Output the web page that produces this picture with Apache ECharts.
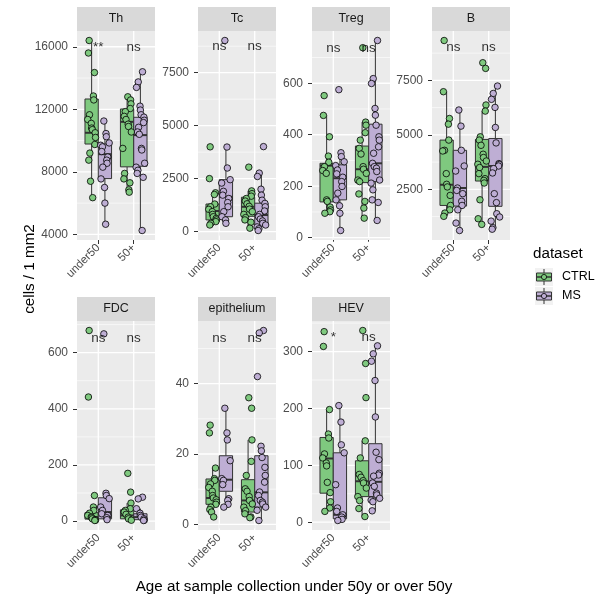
<!DOCTYPE html>
<html>
<head>
<meta charset="utf-8">
<script src="https://cdn.jsdelivr.net/npm/echarts@6/dist/echarts.min.js"></script>
<style>
  html, body { margin: 0; padding: 0; background: #ffffff; }
  #chart { width: 613px; height: 601px; }
</style>
</head>
<body>
<div id="chart"></div>
<script>
// ---- categories ----
const groups = ['under50', '50+'];
const datasets = ['CTRL', 'MS'];
const panelNames = ['Th', 'Tc', 'Treg', 'B', 'FDC', 'epithelium', 'HEV'];

// ---- cells per mm2; order: under50 CTRL, under50 MS, 50+ CTRL, 50+ MS ----
const thValues = [
  [16400, 15600, 14350, 12850, 12600, 11650, 11350, 11100, 10800, 10700, 10500, 10200, 9750, 9200, 8750, 7400, 6350],
  [11250, 10450, 10250, 9850, 9700, 9600, 9300, 8950, 8750, 8550, 8300, 7550, 7000, 6000, 4650],
  [12800, 12600, 12350, 12050, 11850, 11550, 11350, 11050, 10900, 10550, 9500, 7900, 7550, 7300, 6850, 6700],
  [14400, 13750, 13400, 12200, 11950, 11650, 11500, 11300, 11150, 10850, 10550, 10400, 9500, 9400, 8550, 8300, 8100, 7900, 7650, 4250]
];
const tcValues = [
  [4000, 2500, 1830, 1750, 1300, 1170, 1050, 940, 810, 700, 620, 550, 470, 390, 310],
  [9020, 3990, 3000, 2450, 2290, 1900, 1720, 1560, 1370, 1170, 940, 700, 550, 390],
  [3040, 1920, 1790, 1670, 1560, 1440, 1310, 1190, 1060, 940, 810, 660, 550, 440, 160],
  [4010, 2760, 2600, 2000, 1720, 1480, 1330, 1170, 970, 810, 700, 590, 500, 390, 310, 220, 130, 50]
];
const tregValues = [
  [552, 475, 392, 317, 293, 276, 261, 250, 147, 141, 119, 108, 101, 95],
  [575, 330, 315, 295, 280, 263, 248, 235, 218, 199, 173, 147, 124, 95, 28],
  [738, 449, 437, 408, 379, 347, 325, 276, 266, 250, 224, 218, 170, 141, 115, 76],
  [766, 618, 599, 502, 476, 437, 392, 379, 353, 328, 289, 276, 270, 257, 224, 212, 186, 147, 137, 67]
];
const bValues = [
  [9330, 6980, 5750, 5490, 4760, 4290, 4260, 3220, 2730, 2610, 2220, 1760, 1560, 1410, 1260],
  [6140, 5400, 4290, 3570, 3340, 2560, 2450, 2300, 1950, 1760, 1560, 950, 610],
  [8310, 8050, 6370, 6090, 4910, 4760, 4520, 4110, 3960, 3800, 3650, 3500, 3220, 2990, 2910, 2790, 2020, 1150, 890],
  [7240, 6900, 6630, 6260, 5340, 4630, 3680, 3640, 3570, 3450, 3250, 2300, 1890, 1380, 1230, 1040, 740, 670]
];
const fdcValues = [
  [679, 442, 91, 50, 38, 28, 20, 15, 12, 8, 5, 3, 2],
  [667, 99, 91, 80, 50, 38, 26, 20, 12, 5],
  [170, 103, 64, 44, 38, 32, 24, 14, 8, 3],
  [85, 79, 44, 28, 20, 14, 8, 3, 2]
];
const epiValues = [
  [28.2, 26.0, 16.0, 13.0, 12.5, 11.5, 10.5, 9.4, 8.2, 7.5, 7.0, 6.3, 5.7, 4.9, 4.2, 3.5, 2.1],
  [33, 26, 24, 18.1, 13.0, 12.5, 11.3, 7.3, 6.8, 5.7, 4.9],
  [36, 33, 24, 17.9, 13.9, 10.1, 9.4, 7.9, 6.8, 5.8, 4.9, 3.9, 3.0, 2.1, 1.9],
  [55.1, 54.4, 42.0, 22.2, 20.9, 19.0, 16.2, 13.9, 12.0, 9.2, 8.2, 6.8, 6.3, 5.8, 4.9, 4.0, 1.1]
];
const hevValues = [
  [335, 309, 198, 155, 148, 120, 113, 104, 99, 70, 52, 36, 25, 19],
  [205, 176, 136, 122, 66, 25, 19, 13, 9, 5, 3],
  [337, 279, 219, 143, 113, 84, 79, 73, 69, 60, 45, 38, 24, 10],
  [310, 296, 283, 249, 185, 123, 110, 86, 83, 81, 69, 63, 51, 48, 42, 39, 36, 20]
];

// ---- box statistics: [lower whisker, Q1, median, Q3, upper whisker] ----
const thBoxes = [[6350, 9780, 10500, 12660, 16400], [4650, 7570, 9130, 9780, 11250], [6700, 8320, 11200, 12020, 12800], [4250, 8360, 10350, 11490, 14400]];
const tcBoxes = [[310, 550, 970, 1300, 1830], [390, 700, 1640, 2450, 3990], [160, 720, 1170, 1620, 1920], [50, 310, 780, 1340, 2760]];
const tregBoxes = [[95, 139, 280, 289, 475], [28, 147, 231, 283, 330], [76, 214, 266, 356, 449], [67, 218, 289, 441, 766]];
const bBoxes = [[1260, 1760, 2710, 4760, 6980], [610, 1730, 2560, 4290, 6140], [890, 2880, 3530, 4790, 6090], [670, 1720, 3570, 4830, 7240]];
const fdcBoxes = [[2, 7, 14, 30, 50], [5, 8, 32, 83, 99], [3, 8, 20, 40, 64], [2, 5, 14, 26, 44]];
const epiBoxes = [[2.1, 5.7, 7.5, 12.9, 16.0], [4.9, 9.4, 12.7, 19.5, 33], [1.9, 3.5, 6.8, 12.7, 24], [1.1, 4.9, 9.1, 19.5, 22.2]];
const hevBoxes = [[19, 51, 112, 149, 198], [3, 6, 13, 122, 205], [10, 45, 72, 108, 143], [20, 45, 71, 138, 310]];

// ---- y tick labels ----
const thTicks = [4000, 8000, 12000, 16000];
const tcTicks = [0, 2500, 5000, 7500];
const tregTicks = [0, 200, 400, 600];
const bTicks = [2500, 5000, 7500];
const fdcTicks = [0, 200, 400, 600];
const epiTicks = [0, 20, 40];
const hevTicks = [0, 100, 200, 300];

// ---- significance labels (under50, 50+) and their height ----
const thSignif = ['**', 'ns'];   const thSignifY = 15950;
const tcSignif = ['ns', 'ns'];   const tcSignifY = 8740;
const tregSignif = ['ns', 'ns']; const tregSignifY = 737;
const bSignif = ['ns', 'ns'];    const bSignifY = 9020;
const fdcSignif = ['ns', 'ns'];  const fdcSignifY = 653;
const epiSignif = ['ns', 'ns'];  const epiSignifY = 53;
const hevSignif = ['*', 'ns'];   const hevSignifY = 325;

const panels = [
  { values: thValues,   boxes: thBoxes,   ticks: thTicks,   signif: thSignif,   signifY: thSignifY },
  { values: tcValues,   boxes: tcBoxes,   ticks: tcTicks,   signif: tcSignif,   signifY: tcSignifY },
  { values: tregValues, boxes: tregBoxes, ticks: tregTicks, signif: tregSignif, signifY: tregSignifY },
  { values: bValues,    boxes: bBoxes,    ticks: bTicks,    signif: bSignif,    signifY: bSignifY },
  { values: fdcValues,  boxes: fdcBoxes,  ticks: fdcTicks,  signif: fdcSignif,  signifY: fdcSignifY },
  { values: epiValues,  boxes: epiBoxes,  ticks: epiTicks,  signif: epiSignif,  signifY: epiSignifY },
  { values: hevValues,  boxes: hevBoxes,  ticks: hevTicks,  signif: hevSignif,  signifY: hevSignifY }
];

// ---- styling / layout ----
const FONT = '"Liberation Sans", Arial, Helvetica, sans-serif';
const FILLS = ['#7FC97F', '#BEAED4'];
const PANEL_BG = '#EBEBEB';
const STRIP_BG = '#D9D9D9';
const DODGE = 0.1875;      // half of the dodge width between CTRL and MS
const BOX_HALF = 0.1875;   // half box width in x units
const JITTER = [-0.07, 0.05, -0.11, 0.02, 0.09, -0.03, 0.12, -0.09, 0.06, -0.01, 0.10, -0.05, 0.03, -0.12, 0.08, -0.06, 0.00, 0.11, -0.08, 0.04];
const X_MIN = 0.4, X_MAX = 2.6;
const PW = 78, PH = 209, STRIP_H = 24;
const panelPos = [[77, 31], [198, 31], [312, 31], [432, 31], [77, 321], [198, 321], [312, 321]];

function yRange(values) {
  const all = values.flat();
  const lo = Math.min(...all), hi = Math.max(...all);
  const pad = (hi - lo) * 0.05;
  return [lo - pad, hi + pad];
}

const grids = [], xAxes = [], yAxes = [], series = [], graphics = [];

panels.forEach((p, i) => {
  const [left, top] = panelPos[i];
  const [ymin, ymax] = yRange(p.values);
  const step = p.ticks[1] - p.ticks[0];
  const minor = [];
  for (let k = -1; k < p.ticks.length; k++) {
    const v = p.ticks[0] + step * (k + 0.5);
    if (v > ymin && v < ymax) minor.push(v);
  }

  grids.push({ left, top, width: PW, height: PH, show: true, backgroundColor: PANEL_BG, borderWidth: 0 });

  xAxes.push({
    type: 'value', gridIndex: i, min: X_MIN, max: X_MAX,
    axisLine: { show: false },
    splitLine: { show: false },
    axisTick: { show: true, customValues: [1, 2], length: 4, lineStyle: { color: '#333333', width: 1 } },
    axisLabel: {
      customValues: [1, 2], rotate: 45, margin: 6,
      fontFamily: FONT, fontSize: 11.5, color: '#4D4D4D',
      formatter: v => groups[Math.round(v) - 1]
    }
  });
  yAxes.push({
    type: 'value', gridIndex: i, min: ymin, max: ymax,
    axisLine: { show: false },
    splitLine: { show: false },
    axisTick: { show: true, customValues: p.ticks, length: 4, lineStyle: { color: '#333333', width: 1 } },
    axisLabel: {
      customValues: p.ticks, margin: 9, fontFamily: FONT, fontSize: 12, color: '#4D4D4D',
      formatter: v => String(v)
    }
  });

  // white grid lines: [x, y, kind] kind 0 = major horizontal, 1 = minor horizontal, 2 = vertical
  const gridData = [];
  p.ticks.forEach(v => gridData.push([1.5, v, 0]));
  minor.forEach(v => gridData.push([1.5, v, 1]));
  [1, 2].forEach(v => gridData.push([v, (ymin + ymax) / 2, 2]));
  series.push({
    type: 'custom', xAxisIndex: i, yAxisIndex: i, silent: true, z: 1,
    encode: { x: 0, y: 1 },
    data: gridData,
    renderItem(params, api) {
      const cs = params.coordSys;
      const kind = api.value(2);
      const pt = api.coord([api.value(0), api.value(1)]);
      if (kind === 2) {
        return { type: 'line', shape: { x1: pt[0], y1: cs.y, x2: pt[0], y2: cs.y + cs.height },
                 style: { stroke: '#FFFFFF', lineWidth: 1.3 } };
      }
      return { type: 'line', shape: { x1: cs.x, y1: pt[1], x2: cs.x + cs.width, y2: pt[1] },
               style: { stroke: '#FFFFFF', lineWidth: kind === 0 ? 1.3 : 0.6 } };
    }
  });

  // boxes
  const boxData = p.boxes.map((b, k) => {
    const g = Math.floor(k / 2) + 1, d = k % 2;
    return [g + (d === 0 ? -DODGE : DODGE), ...b, d];
  });
  series.push({
    type: 'custom', xAxisIndex: i, yAxisIndex: i, silent: true, z: 2,
    encode: { x: 0, y: [1, 2, 3, 4, 5] },
    data: boxData,
    renderItem(params, api) {
      const x = api.value(0);
      const lo = api.coord([x, api.value(1)]);
      const q1 = api.coord([x + BOX_HALF, api.value(2)]);
      const med = api.coord([x - BOX_HALF, api.value(3)]);
      const q3 = api.coord([x - BOX_HALF, api.value(4)]);
      const hi = api.coord([x, api.value(5)]);
      const line = { stroke: '#333333', lineWidth: 1 };
      return {
        type: 'group', children: [
          { type: 'line', shape: { x1: hi[0], y1: hi[1], x2: hi[0], y2: q3[1] }, style: line },
          { type: 'line', shape: { x1: lo[0], y1: q1[1], x2: lo[0], y2: lo[1] }, style: line },
          { type: 'rect', shape: { x: q3[0], y: q3[1], width: q1[0] - q3[0], height: q1[1] - q3[1] },
            style: { fill: FILLS[api.value(6)], stroke: '#333333', lineWidth: 1 } },
          { type: 'line', shape: { x1: med[0], y1: med[1], x2: q1[0], y2: med[1] },
            style: { stroke: '#333333', lineWidth: 2 } }
        ]
      };
    }
  });

  // points
  datasets.forEach((ds, d) => {
    const pts = [];
    [0, 1].forEach(g => {
      p.values[g * 2 + d].forEach((v, j) => {
        pts.push([g + 1 + (d === 0 ? -DODGE : DODGE) + JITTER[(j * 7 + g * 3 + d * 5) % JITTER.length], v]);
      });
    });
    series.push({
      type: 'scatter', name: ds, xAxisIndex: i, yAxisIndex: i, z: 3, silent: true,
      symbol: 'circle', symbolSize: 6.5,
      itemStyle: { color: FILLS[d], borderColor: '#000000', borderWidth: 0.8, opacity: 1 },
      data: pts
    });
  });

  // significance labels
  series.push({
    type: 'scatter', xAxisIndex: i, yAxisIndex: i, z: 4, silent: true,
    symbolSize: 0,
    data: p.signif.map((s, g) => ({ value: [g + 1, p.signifY], name: s })),
    label: { show: true, position: 'inside', formatter: '{b}', fontFamily: FONT, fontSize: 13.5, color: '#000000' }
  });

  // facet strip
  graphics.push({
    type: 'rect', left: left, top: top - STRIP_H, silent: true,
    shape: { width: PW, height: STRIP_H }, style: { fill: STRIP_BG }
  });
  graphics.push({
    type: 'text', x: left + PW / 2, y: top - STRIP_H / 2, silent: true,
    style: { text: panelNames[i], fontFamily: FONT, fontSize: 12.5, fill: '#1A1A1A', align: 'center', verticalAlign: 'middle' }
  });
});

// axis titles
graphics.push({
  type: 'text', x: 294, y: 587, silent: true,
  style: { text: 'Age at sample collection under 50y or over 50y', fontFamily: FONT, fontSize: 15.2, fill: '#000000', align: 'center', verticalAlign: 'middle' }
});
graphics.push({
  type: 'text', x: 30, y: 269, rotation: Math.PI / 2, silent: true,
  style: { text: 'cells / 1 mm2', fontFamily: FONT, fontSize: 15.2, fill: '#000000', align: 'center', verticalAlign: 'middle' }
});

// legend
graphics.push({
  type: 'text', x: 533, y: 254, silent: true,
  style: { text: 'dataset', fontFamily: FONT, fontSize: 15.2, fill: '#000000', align: 'left', verticalAlign: 'middle' }
});
datasets.forEach((ds, d) => {
  const kx = 535, ky = 268 + d * 19, ks = 18;
  graphics.push({
    type: 'group', silent: true, children: [
      { type: 'rect', shape: { x: kx, y: ky, width: ks, height: ks }, style: { fill: '#F2F2F2' } },
      { type: 'line', shape: { x1: kx + ks / 2, y1: ky + 1, x2: kx + ks / 2, y2: ky + ks - 1 }, style: { stroke: '#333333', lineWidth: 1 } },
      { type: 'rect', shape: { x: kx + 1.5, y: ky + 5, width: ks - 3, height: ks - 10 }, style: { fill: FILLS[d], stroke: '#333333', lineWidth: 1 } },
      { type: 'line', shape: { x1: kx + 1.5, y1: ky + ks / 2, x2: kx + ks - 1.5, y2: ky + ks / 2 }, style: { stroke: '#333333', lineWidth: 1.5 } },
      { type: 'circle', shape: { cx: kx + ks / 2, cy: ky + ks / 2, r: 2.6 }, style: { fill: FILLS[d], stroke: '#000000', lineWidth: 0.8 } },
      { type: 'text', x: kx + ks + 9, y: ky + ks / 2, style: { text: ds, fontFamily: FONT, fontSize: 12.5, fill: '#000000', align: 'left', verticalAlign: 'middle' } }
    ]
  });
});

const chart = echarts.init(document.getElementById('chart'), null, { renderer: 'canvas' });
chart.setOption({
  animation: false,
  backgroundColor: '#FFFFFF',
  grid: grids,
  xAxis: xAxes,
  yAxis: yAxes,
  series: series,
  graphic: graphics
});
</script>
</body>
</html>
